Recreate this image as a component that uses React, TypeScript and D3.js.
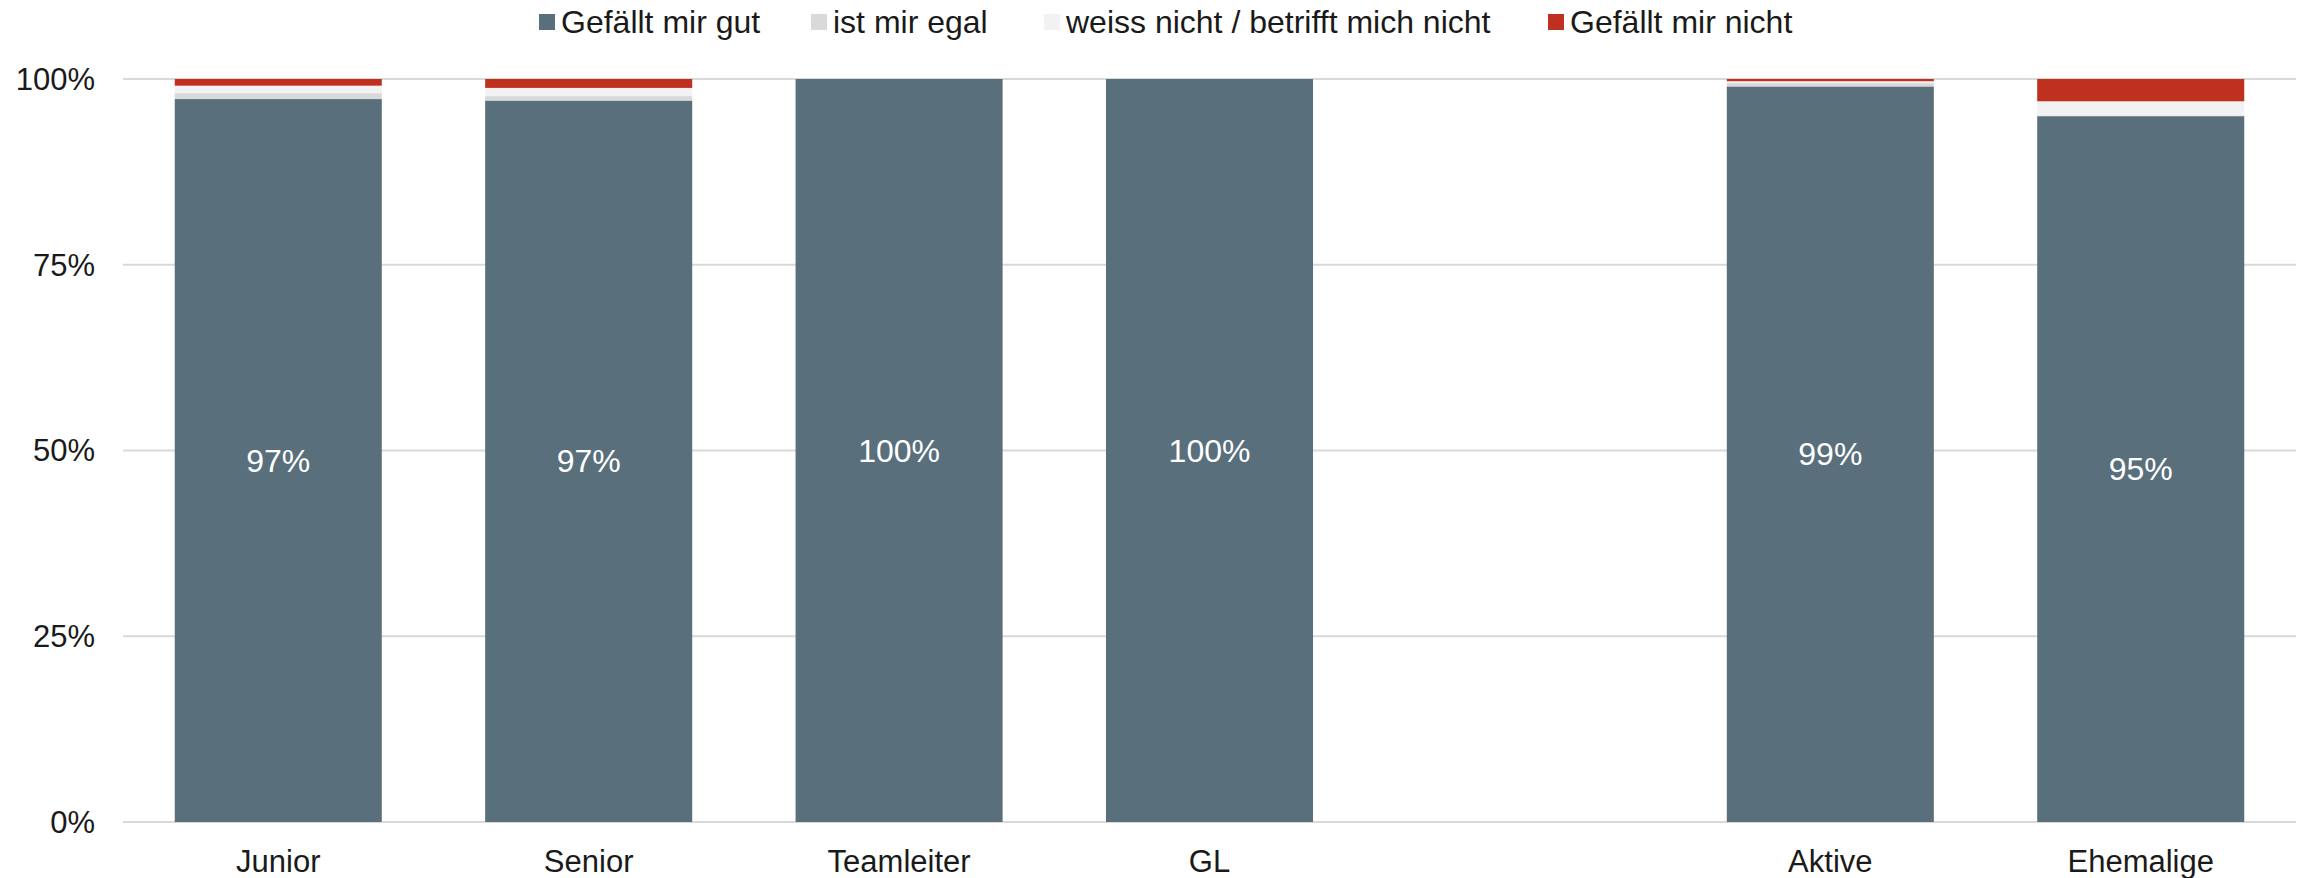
import React from "react";
import * as d3 from "d3";

const categories = ["Junior", "Senior", "Teamleiter", "GL", "", "Aktive", "Ehemalige"];
const seriesNames = ["Gefällt mir gut", "ist mir egal", "weiss nicht / betrifft mich nicht", "Gefällt mir nicht"];
const gefaelltGut = [97.3, 97.1, 100, 100, null, 99.0, 95.0];
const istMirEgal = [0.8, 0.6, 0, 0, null, 0.45, 0.1];
const weissNicht = [1.0, 1.1, 0, 0, null, 0.25, 1.9];
const gefaelltNicht = [0.9, 1.2, 0, 0, null, 0.3, 3.0];
const dataLabels = ["97%", "97%", "100%", "100%", "", "99%", "95%"];
const yTicks = [0, 25, 50, 75, 100];
const colors = ["#596f7c", "#d9d9d9", "#f2f2f2", "#c0301f"];

const W = 2303;
const H = 878;
const plotLeft = 123;
const plotRight = 2296;
const plotTop = 79;
const plotBottom = 822;
const FONT = "'Liberation Sans', Arial, sans-serif";

const legendX = [539, 811, 1044, 1548];

export default function App() {
  const x = d3.scaleBand<string>()
    .domain(categories.map((c, i) => c + "#" + i))
    .range([plotLeft, plotRight])
    .paddingInner(0.333)
    .paddingOuter(0.1667);
  const y = d3.scaleLinear().domain([0, 100]).range([plotBottom, plotTop]);

  const series = [gefaelltGut, istMirEgal, weissNicht, gefaelltNicht];

  const bars: React.ReactNode[] = [];
  categories.forEach((c, i) => {
    if (gefaelltGut[i] == null) return;
    let acc = 0;
    const key = c + "#" + i;
    series.forEach((s, si) => {
      const v = s[i] as number;
      if (!v) return;
      const y0 = y(acc);
      const y1 = y(acc + v);
      acc += v;
      bars.push(
        <rect key={key + si} x={x(key)} width={x.bandwidth()} y={y1} height={y0 - y1}
          fill={colors[si]} />
      );
    });
  });

  return (
    <svg width={W} height={H} style={{ position: "absolute", left: 0, top: 0, background: "#fff" }}
      fontFamily={FONT}>
      {yTicks.map((t) => (
        <g key={t}>
          <line x1={plotLeft} x2={plotRight} y1={y(t)} y2={y(t)} stroke="#d9d9d9" strokeWidth={2} />
          <text x={95} y={y(t)} dy="0.35em" textAnchor="end" fontSize={31} fill="#1a1a1a">{t}%</text>
        </g>
      ))}
      {bars}
      {categories.map((c, i) => {
        const key = c + "#" + i;
        const v = gefaelltGut[i];
        const cx = (x(key) as number) + x.bandwidth() / 2;
        return (
          <g key={key}>
            {c && <text x={cx} y={861} dy="0.35em" textAnchor="middle" fontSize={31} fill="#1a1a1a">{c}</text>}
            {v != null && (
              <text x={cx} y={y(v / 2)} dy="0.35em" textAnchor="middle" fontSize={32} fill="#ffffff">{dataLabels[i]}</text>
            )}
          </g>
        );
      })}
      {seriesNames.map((n, i) => (
        <g key={n}>
          <rect x={legendX[i]} y={14} width={16} height={16} fill={colors[i]} />
          <text x={legendX[i] + 22} y={22} dy="0.35em" fontSize={32} fill="#1a1a1a">{n}</text>
        </g>
      ))}
    </svg>
  );
}
